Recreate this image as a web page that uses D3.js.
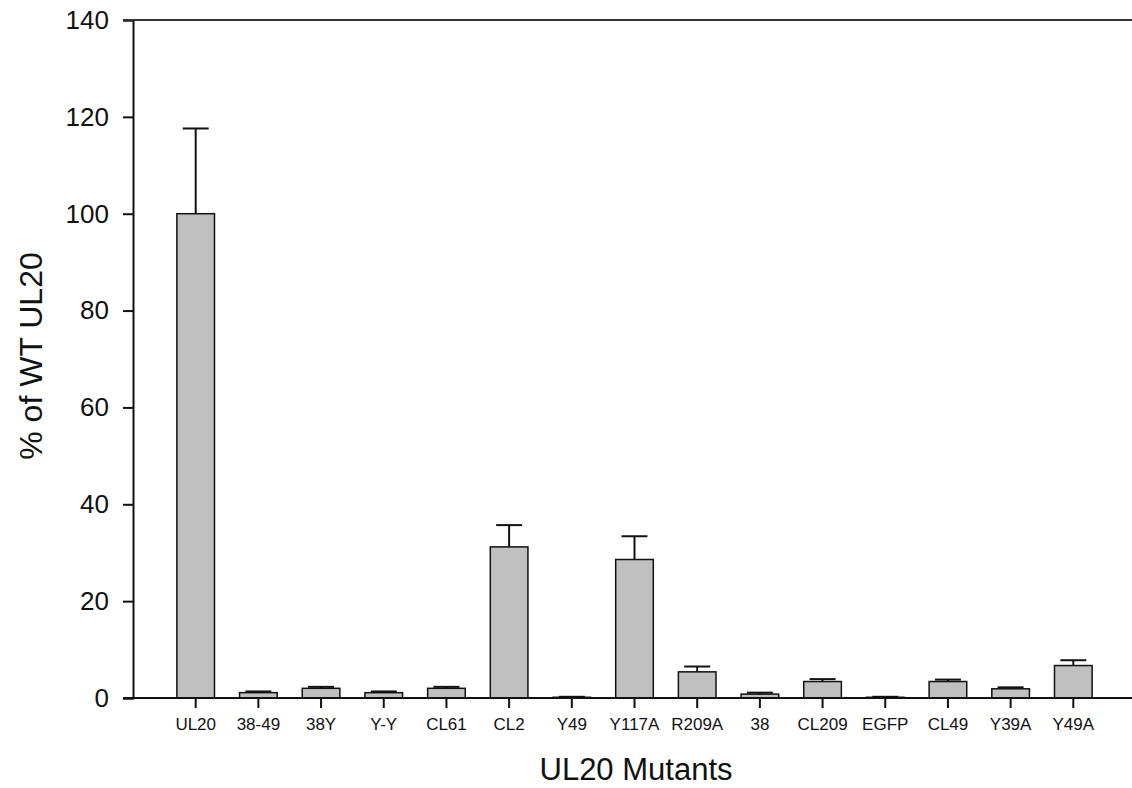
<!DOCTYPE html>
<html lang="en">
<head>
    <meta charset="UTF-8">
    <title>UL20 Mutants</title>
    <script src="https://d3js.org/d3.v7.min.js"></script>
    <style>
        body { margin: 0; background: #fff; }
        svg { display: block; font-family: Arial, "Liberation Sans", sans-serif; }
    </style>
</head>
<body>
    <div id="chart"></div>
    <script>
        // Data
        const mutants = ["UL20", "38-49", "38Y", "Y-Y", "CL61", "CL2", "Y49", "Y117A",
                         "R209A", "38", "CL209", "EGFP", "CL49", "Y39A", "Y49A"];
        const percentWT = [100, 1.1, 2.0, 1.1, 2.0, 31.2, 0.15, 28.6,
                           5.4, 0.8, 3.4, 0.15, 3.4, 1.9, 6.7];
        const errorUp = [17.6, 0.25, 0.3, 0.25, 0.3, 4.5, 0.1, 4.8,
                         1.1, 0.3, 0.5, 0.1, 0.4, 0.3, 1.1];
        const yTicks = [0, 20, 40, 60, 80, 100, 120, 140];

        const svg = d3.select("#chart").append("svg")
            .attr("width", 1132)
            .attr("height", 788);

        const plotLeft = 133, plotRight = 1136, plotTop = 20, plotBottom = 698;

        const x = d3.scaleBand()
            .domain(mutants)
            .range([plotLeft, plotRight])
            .paddingInner(0.4)
            .paddingOuter(0.7);

        const y = d3.scaleLinear()
            .domain([0, 140])
            .range([plotBottom, plotTop]);

        const rows = mutants.map((m, i) => ({ name: m, value: percentWT[i], err: errorUp[i] }));

        // Error bars (upper only)
        const eb = svg.append("g").attr("stroke", "#111").attr("stroke-width", 2);
        eb.selectAll("line.stem")
            .data(rows)
            .enter().append("line")
            .attr("class", "stem")
            .attr("x1", d => x(d.name) + x.bandwidth() / 2)
            .attr("x2", d => x(d.name) + x.bandwidth() / 2)
            .attr("y1", d => y(d.value))
            .attr("y2", d => y(d.value + d.err));
        eb.selectAll("line.cap")
            .data(rows)
            .enter().append("line")
            .attr("class", "cap")
            .attr("x1", d => x(d.name) + x.bandwidth() / 2 - 13)
            .attr("x2", d => x(d.name) + x.bandwidth() / 2 + 13)
            .attr("y1", d => y(d.value + d.err))
            .attr("y2", d => y(d.value + d.err));

        // Bars
        svg.selectAll(".bar")
            .data(rows)
            .enter().append("rect")
            .attr("class", "bar")
            .attr("x", d => x(d.name))
            .attr("y", d => y(d.value))
            .attr("width", x.bandwidth())
            .attr("height", d => plotBottom - y(d.value))
            .attr("fill", "#c0c0c0")
            .attr("stroke", "#111")
            .attr("stroke-width", 1.5);

        // Y axis
        const yAxis = svg.append("g")
            .attr("transform", `translate(${plotLeft},0)`)
            .call(d3.axisLeft(y).tickValues(yTicks).tickSize(10).tickPadding(14));
        yAxis.select(".domain").attr("stroke", "#111").attr("stroke-width", 2);
        yAxis.selectAll(".tick line").attr("stroke", "#111").attr("stroke-width", 2);
        yAxis.selectAll(".tick text").style("font-size", "26px").attr("fill", "#111");

        // X axis
        const xAxis = svg.append("g")
            .attr("transform", `translate(0,${plotBottom})`)
            .call(d3.axisBottom(x).tickSize(10).tickPadding(10));
        xAxis.select(".domain").remove();
        xAxis.selectAll(".tick line").attr("stroke", "#111").attr("stroke-width", 2);
        xAxis.selectAll(".tick text").style("font-size", "17px").attr("fill", "#111");

        // Bottom and top frame lines
        svg.append("line")
            .attr("x1", plotLeft - 10).attr("x2", 1132)
            .attr("y1", plotBottom).attr("y2", plotBottom)
            .attr("stroke", "#111").attr("stroke-width", 2);
        svg.append("line")
            .attr("x1", plotLeft - 10).attr("x2", 1132)
            .attr("y1", plotTop).attr("y2", plotTop)
            .attr("stroke", "#333").attr("stroke-width", 2);

        // Axis titles
        svg.append("text")
            .attr("x", 636)
            .attr("y", 780)
            .attr("text-anchor", "middle")
            .style("font-size", "31px")
            .attr("fill", "#111")
            .text("UL20 Mutants");

        svg.append("text")
            .attr("transform", "rotate(-90)")
            .attr("x", -356)
            .attr("y", 42)
            .attr("text-anchor", "middle")
            .style("font-size", "32px")
            .attr("fill", "#111")
            .text("% of WT UL20");
    </script>
</body>
</html>
